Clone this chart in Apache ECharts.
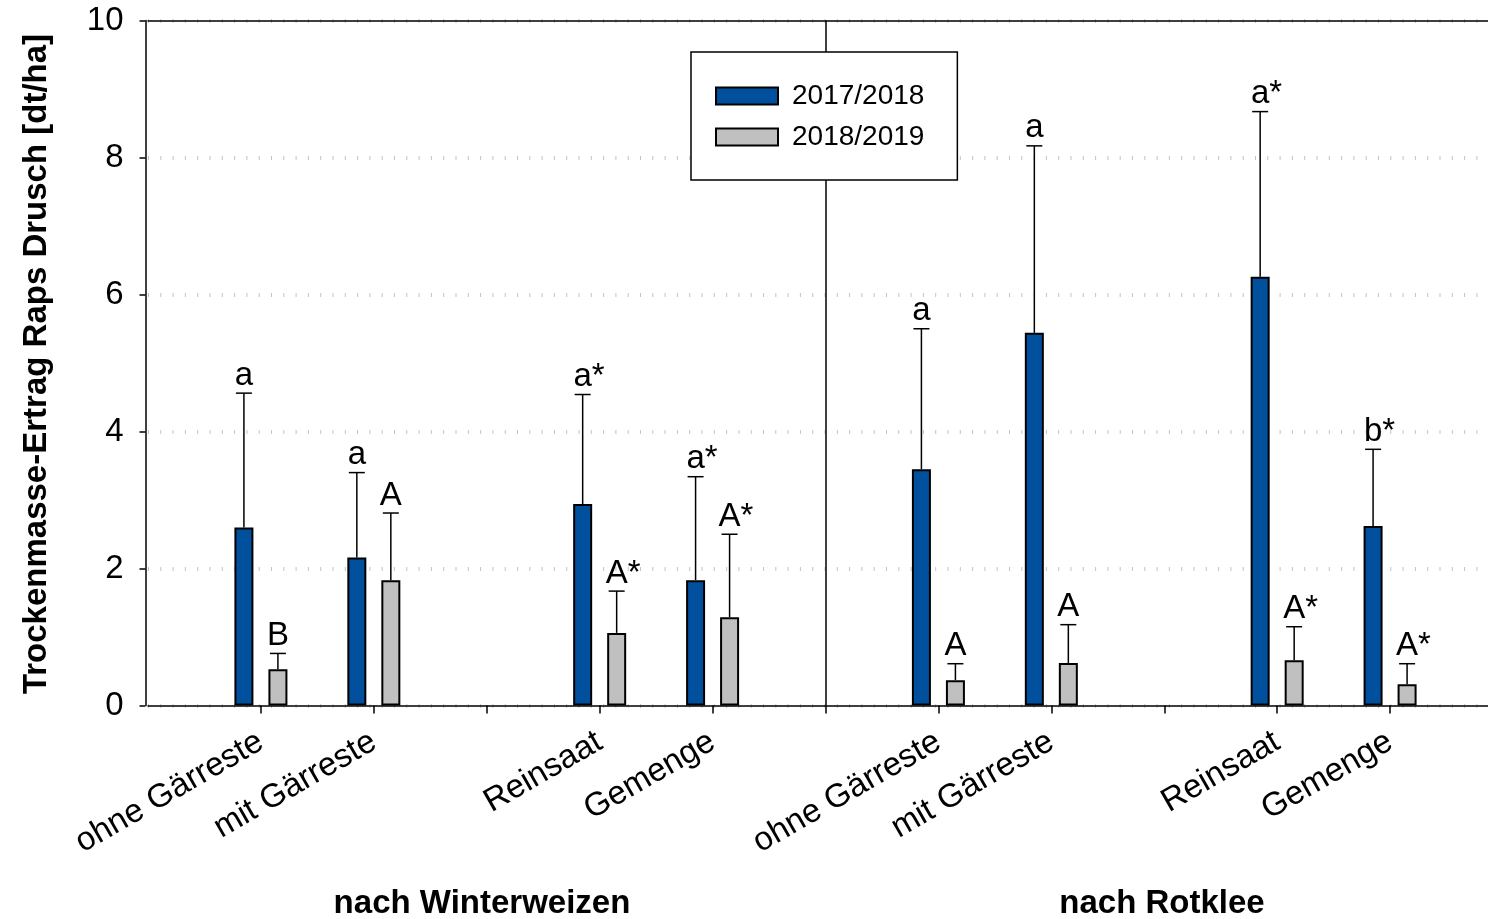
<!DOCTYPE html>
<html lang="de">
<head>
<meta charset="utf-8">
<title>Trockenmasse-Ertrag Raps Drusch</title>
<script src="https://cdn.jsdelivr.net/npm/echarts@6/dist/echarts.min.js"></script>
<style>
  html, body { margin: 0; padding: 0; background: #fff; }
  #chart { width: 1488px; height: 919px; }
</style>
</head>
<body>
<div id="chart"></div>
<script>
// Treatments along the x axis; empty slots separate the groups.
const categories = ['', 'ohne Gärreste', 'mit Gärreste', '', 'Reinsaat', 'Gemenge', '',
                    'ohne Gärreste', 'mit Gärreste', '', 'Reinsaat', 'Gemenge', ''];
const seasons = ['2017/2018', '2018/2019'];
const groupTitles = ['nach Winterweizen', 'nach Rotklee'];
const yAxisTitle = 'Trockenmasse-Ertrag Raps Drusch [dt/ha]';

// Mean yield [dt/ha] and standard deviation per treatment, season 2017/2018
const yield1718 = [null, 2.60, 2.16, null, 2.94, 1.83, null, 3.45, 5.44, null, 6.26, 2.62, null];
const sd1718    = [null, 1.96, 1.24, null, 1.60, 1.51, null, 2.05, 2.73, null, 2.41, 1.12, null];
const letters1718 = ['', 'a', 'a', '', 'a*', 'a*', '', 'a', 'a', '', 'a*', 'b*', ''];

// Season 2018/2019
const yield1819 = [null, 0.53, 1.83, null, 1.06, 1.29, null, 0.37, 0.62, null, 0.66, 0.31, null];
const sd1819    = [null, 0.23, 0.98, null, 0.61, 1.21, null, 0.24, 0.56, null, 0.49, 0.30, null];
const letters1819 = ['', 'B', 'A', '', 'A*', 'A*', '', 'A', 'A', '', 'A*', 'A*', ''];

// Slot holding the vertical divider between the two groups
const dividerSlot = 6;

// Y axis scale
const yMin = 0, yMax = 10, yStep = 2;

const FONT = '"Liberation Sans", Arial, Helvetica, sans-serif';
const BLUE = '#00509E';
const GREY = '#C0C0C0';
const BAR_WIDTH = 19;
const BAR_SHIFT = 17;     // half distance between the two bars of a treatment
const CAP_HALF = 8;
const LETTER_SIZE = 33;

const measureCtx = document.createElement('canvas').getContext('2d');
measureCtx.font = LETTER_SIZE + 'px ' + FONT;

function errorData(means, sds) {
  const out = [];
  means.forEach((m, i) => { if (m != null) out.push([i, m, sds[i]]); });
  return out;
}

function makeErrorRenderer(shift, letters) {
  return function (params, api) {
    const idx = api.value(0);
    const mean = api.value(1);
    const sd = api.value(2);
    const base = api.coord([idx, mean]);
    const top = api.coord([idx, mean + sd]);
    const x = base[0] + shift;
    const label = letters[idx] || '';
    const letter = label.replace('*', '');
    const w = measureCtx.measureText(letter).width;
    return {
      type: 'group',
      children: [
        { type: 'line', shape: { x1: x, y1: base[1], x2: x, y2: top[1] },
          style: { stroke: '#000', lineWidth: 1.5 } },
        { type: 'line', shape: { x1: x - CAP_HALF, y1: top[1], x2: x + CAP_HALF, y2: top[1] },
          style: { stroke: '#000', lineWidth: 1.5 } },
        { type: 'text', x: x - w / 2, y: top[1] - 1,
          style: { text: label, fill: '#000', font: LETTER_SIZE + 'px ' + FONT,
                   align: 'left', verticalAlign: 'bottom' } }
      ]
    };
  };
}

const chart = echarts.init(document.getElementById('chart'), null, { renderer: 'canvas' });

const option = {
  backgroundColor: '#fff',
  animation: false,
  textStyle: { fontFamily: FONT, color: '#000' },
  grid: {
    left: 148, right: -15, top: 20.5, bottom: 213.5,
    show: false,
    outerBoundsMode: 'none', containLabel: false
  },
  legend: {
    orient: 'vertical', left: 691, top: 52,
    padding: [30, 33, 29, 24],
    itemWidth: 62, itemHeight: 17, itemGap: 13,
    backgroundColor: '#fff', borderColor: '#000', borderWidth: 1.5,
    icon: 'rect', selectedMode: false, z: 10,
    itemStyle: { borderColor: '#000', borderWidth: 2 },
    textStyle: { fontSize: 28, color: '#000', fontFamily: FONT, padding: [3, 0, 0, 9] },
    data: seasons
  },
  xAxis: [
    {
      type: 'category',
      data: categories,
      boundaryGap: false,
      axisLine: { show: true, lineStyle: { color: '#000', width: 1.5 } },
      axisTick: { show: true, length: 8, inside: false,
                  interval: (i) => i > 0 && i < categories.length - 1,
                  lineStyle: { color: '#000', width: 1.5 } },
      axisLabel: { interval: 0, rotate: 30, margin: 34, fontSize: 33, color: '#000', fontFamily: FONT },
      splitLine: { show: false }
    },
    {
      // frame line along the top of the plot
      type: 'category',
      data: categories,
      boundaryGap: false,
      position: 'top',
      axisLine: { show: true, onZero: false, lineStyle: { color: '#000', width: 1.5 } },
      axisTick: { show: false },
      axisLabel: { show: false },
      splitLine: { show: false }
    }
  ],
  yAxis: {
    type: 'value', min: yMin, max: yMax, interval: yStep,
    offset: 2.5,
    axisLine: { show: true, onZero: false, lineStyle: { color: '#000', width: 1.5 } },
    axisTick: { show: true, length: 6, inside: false, lineStyle: { color: '#000', width: 1.5 } },
    axisLabel: { fontSize: 33, color: '#000', margin: 22, fontFamily: FONT },
    splitLine: { show: true, lineStyle: { color: '#c4c4c4', width: 4, type: [1, 11.3] } }
  },
  series: [
    {
      name: seasons[0], type: 'bar', data: yield1718,
      barWidth: BAR_WIDTH, barGap: '79%',
      itemStyle: { color: BLUE, borderColor: '#000', borderWidth: 2 }
    },
    {
      name: seasons[1], type: 'bar', data: yield1819,
      barWidth: BAR_WIDTH,
      itemStyle: { color: GREY, borderColor: '#000', borderWidth: 2 }
    },
    {
      type: 'custom', z: 3, clip: false,
      data: errorData(yield1718, sd1718),
      renderItem: makeErrorRenderer(-BAR_SHIFT, letters1718),
      markLine: {
        silent: true, symbol: 'none', label: { show: false },
        lineStyle: { color: '#000', width: 1.5, type: 'solid' },
        data: [{ xAxis: dividerSlot }]
      }
    },
    {
      type: 'custom', z: 3, clip: false,
      data: errorData(yield1819, sd1819),
      renderItem: makeErrorRenderer(BAR_SHIFT, letters1819)
    }
  ],
  graphic: [
    { type: 'text', x: 37, y: 364, rotation: Math.PI / 2,
      style: { text: yAxisTitle, font: 'bold 33px ' + FONT, fill: '#000', align: 'center', verticalAlign: 'middle' } },
    { type: 'text', x: 482, y: 904,
      style: { text: groupTitles[0], font: 'bold 33px ' + FONT, fill: '#000', align: 'center', verticalAlign: 'middle' } },
    { type: 'text', x: 1162, y: 904,
      style: { text: groupTitles[1], font: 'bold 33px ' + FONT, fill: '#000', align: 'center', verticalAlign: 'middle' } }
  ]
};

chart.setOption(option);
</script>
</body>
</html>
